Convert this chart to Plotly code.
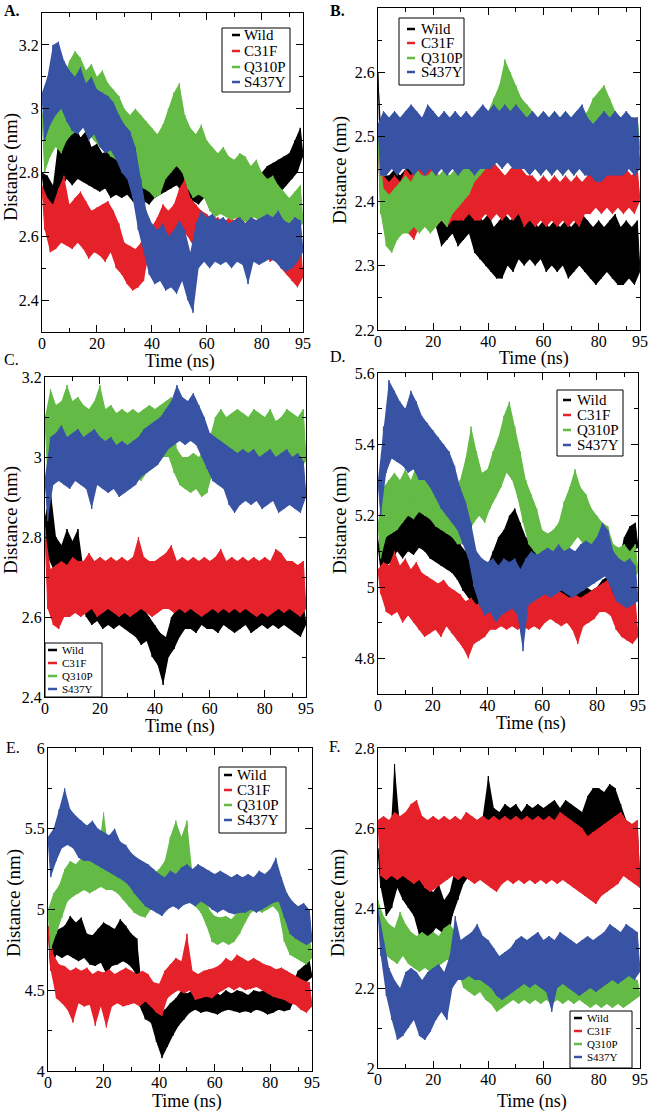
import plotly.graph_objects as go

W, H = 650, 1112

TIME_NS = list(range(96))
SERIES = ["Wild", "C31F", "Q310P", "S437Y"]
COLORS = ["#000000", "#e5222a", "#63bb45", "#3953a4"]
X_TICKS = [0, 20, 40, 60, 80, 95]
X_MINOR = [10, 30, 50, 70, 90]

# ---------------- Panel A ----------------
A_WILD = [2.80, 2.72, 2.79, 2.65, 2.76, 2.68, 2.90, 2.75, 2.94, 2.78,
          2.92, 2.76, 2.95, 2.78, 2.91, 2.77, 2.93, 2.76, 2.88, 2.75,
          2.89, 2.74, 2.86, 2.75, 2.87, 2.72, 2.85, 2.73, 2.84, 2.72,
          2.86, 2.73, 2.84, 2.71, 2.83, 2.70, 2.82, 2.71, 2.84, 2.70,
          2.83, 2.72, 2.85, 2.73, 2.84, 2.74, 2.86, 2.75, 2.88, 2.76,
          2.90, 2.74, 2.86, 2.73, 2.85, 2.71, 2.84, 2.70, 2.86, 2.72,
          2.87, 2.71, 2.85, 2.72, 2.84, 2.70, 2.83, 2.71, 2.82, 2.70,
          2.81, 2.69, 2.80, 2.70, 2.79, 2.67, 2.80, 2.70, 2.81, 2.71,
          2.80, 2.72, 2.82, 2.73, 2.83, 2.72, 2.84, 2.74, 2.85, 2.76,
          2.86, 2.78, 2.90, 2.80, 2.94, 2.85]
A_C31F = [2.76, 2.62, 2.72, 2.55, 2.70, 2.56, 2.75, 2.58, 2.79, 2.57,
          2.70, 2.56, 2.72, 2.58, 2.74, 2.56, 2.71, 2.53, 2.68, 2.55,
          2.69, 2.54, 2.70, 2.52, 2.71, 2.55, 2.68, 2.50, 2.64, 2.48,
          2.58, 2.45, 2.57, 2.43, 2.56, 2.44, 2.58, 2.46, 2.62, 2.55,
          2.63, 2.55, 2.66, 2.56, 2.70, 2.58, 2.68, 2.56, 2.70, 2.60,
          2.75, 2.62, 2.78, 2.60, 2.72, 2.57, 2.70, 2.55, 2.68, 2.56,
          2.67, 2.55, 2.65, 2.54, 2.66, 2.55, 2.64, 2.53, 2.66, 2.54,
          2.65, 2.53, 2.67, 2.55, 2.64, 2.53, 2.66, 2.54, 2.65, 2.53,
          2.67, 2.55, 2.66, 2.52, 2.64, 2.53, 2.62, 2.50, 2.60, 2.48,
          2.58, 2.46, 2.56, 2.44, 2.58, 2.47]
A_Q310P = [2.98, 2.80, 3.05, 2.85, 3.10, 2.88, 3.12, 2.86, 3.10, 2.90,
           3.15, 2.92, 3.18, 2.93, 3.16, 2.95, 3.12, 2.92, 3.14, 2.90,
           3.10, 2.88, 3.12, 2.87, 3.08, 2.85, 3.06, 2.84, 3.04, 2.82,
           3.00, 2.80, 2.98, 2.78, 3.00, 2.76, 2.98, 2.75, 2.96, 2.74,
           2.94, 2.72, 2.92, 2.73, 2.95, 2.78, 3.00, 2.80, 3.05, 2.82,
           3.08, 2.80, 2.98, 2.75, 2.94, 2.72, 2.92, 2.73, 2.95, 2.72,
           2.90, 2.68, 2.88, 2.66, 2.86, 2.67, 2.88, 2.66, 2.85, 2.65,
           2.84, 2.66, 2.86, 2.65, 2.85, 2.64, 2.82, 2.66, 2.84, 2.65,
           2.80, 2.63, 2.78, 2.62, 2.79, 2.63, 2.76, 2.60, 2.74, 2.58,
           2.72, 2.60, 2.74, 2.62, 2.76, 2.64]
A_S437Y = [3.05, 2.90, 3.10, 2.95, 3.20, 2.98, 3.21, 3.00, 3.15, 2.96,
           3.12, 2.93, 3.10, 2.92, 3.13, 2.94, 3.08, 2.90, 3.10, 2.92,
           3.06, 2.88, 3.05, 2.86, 3.04, 2.87, 3.02, 2.84, 2.98, 2.80,
           2.95, 2.78, 2.93, 2.72, 2.88, 2.62, 2.78, 2.55, 2.68, 2.48,
           2.64, 2.45, 2.62, 2.46, 2.64, 2.43, 2.60, 2.44, 2.62, 2.42,
           2.65, 2.46, 2.62, 2.40, 2.55, 2.36, 2.64, 2.50, 2.68, 2.52,
           2.66, 2.50, 2.67, 2.52, 2.65, 2.51, 2.66, 2.52, 2.64, 2.50,
           2.65, 2.52, 2.66, 2.51, 2.64, 2.45, 2.66, 2.52, 2.65, 2.51,
           2.66, 2.52, 2.67, 2.53, 2.66, 2.52, 2.68, 2.50, 2.65, 2.49,
           2.64, 2.50, 2.66, 2.52, 2.65, 2.55]

# ---------------- Panel B ----------------
B_WILD = [2.60, 2.45, 2.44, 2.38, 2.44, 2.38, 2.45, 2.39, 2.44, 2.38,
          2.45, 2.39, 2.46, 2.40, 2.48, 2.40, 2.46, 2.39, 2.45, 2.38,
          2.44, 2.36, 2.42, 2.33, 2.40, 2.34, 2.41, 2.35, 2.40, 2.33,
          2.39, 2.34, 2.40, 2.35, 2.39, 2.32, 2.38, 2.31, 2.37, 2.30,
          2.38, 2.29, 2.36, 2.28, 2.37, 2.28, 2.38, 2.30, 2.37, 2.29,
          2.38, 2.31, 2.39, 2.30, 2.37, 2.31, 2.38, 2.30, 2.36, 2.31,
          2.37, 2.29, 2.36, 2.30, 2.37, 2.29, 2.36, 2.30, 2.37, 2.28,
          2.36, 2.29, 2.37, 2.30, 2.38, 2.29, 2.37, 2.28, 2.36, 2.27,
          2.37, 2.28, 2.36, 2.29, 2.37, 2.28, 2.38, 2.27, 2.36, 2.27,
          2.37, 2.28, 2.36, 2.27, 2.37, 2.29]
B_C31F = [2.50, 2.38, 2.44, 2.36, 2.43, 2.36, 2.44, 2.35, 2.43, 2.36,
          2.45, 2.35, 2.44, 2.34, 2.46, 2.36, 2.45, 2.37, 2.47, 2.36,
          2.47, 2.36, 2.44, 2.37, 2.43, 2.36, 2.44, 2.37, 2.43, 2.37,
          2.44, 2.37, 2.45, 2.38, 2.44, 2.37, 2.46, 2.37, 2.45, 2.38,
          2.45, 2.37, 2.46, 2.38, 2.45, 2.37, 2.44, 2.38, 2.45, 2.37,
          2.46, 2.38, 2.45, 2.36, 2.44, 2.37, 2.44, 2.36, 2.43, 2.37,
          2.44, 2.36, 2.43, 2.37, 2.44, 2.36, 2.43, 2.37, 2.44, 2.36,
          2.43, 2.37, 2.44, 2.36, 2.43, 2.38, 2.44, 2.38, 2.45, 2.39,
          2.44, 2.38, 2.45, 2.39, 2.46, 2.38, 2.45, 2.39, 2.46, 2.38,
          2.45, 2.39, 2.44, 2.38, 2.45, 2.40]
B_Q310P = [2.50, 2.38, 2.42, 2.33, 2.41, 2.32, 2.42, 2.34, 2.43, 2.35,
           2.44, 2.35, 2.43, 2.36, 2.45, 2.35, 2.44, 2.36, 2.44, 2.35,
           2.45, 2.36, 2.44, 2.37, 2.45, 2.36, 2.44, 2.38, 2.45, 2.39,
           2.46, 2.40, 2.47, 2.41, 2.47, 2.43, 2.50, 2.44, 2.52, 2.45,
           2.54, 2.46, 2.56, 2.47, 2.58, 2.48, 2.62, 2.47, 2.60, 2.48,
           2.58, 2.46, 2.56, 2.45, 2.55, 2.46, 2.54, 2.45, 2.53, 2.44,
           2.54, 2.45, 2.53, 2.44, 2.54, 2.45, 2.53, 2.44, 2.54, 2.45,
           2.53, 2.44, 2.54, 2.45, 2.53, 2.45, 2.54, 2.46, 2.56, 2.47,
           2.57, 2.48, 2.58, 2.47, 2.56, 2.46, 2.54, 2.45, 2.53, 2.46,
           2.52, 2.45, 2.53, 2.46, 2.53, 2.48]
B_S437Y = [2.52, 2.44, 2.54, 2.44, 2.53, 2.45, 2.54, 2.44, 2.53, 2.45,
           2.54, 2.45, 2.55, 2.44, 2.54, 2.45, 2.53, 2.44, 2.55, 2.45,
           2.54, 2.44, 2.53, 2.45, 2.54, 2.44, 2.53, 2.45, 2.54, 2.44,
           2.53, 2.45, 2.54, 2.45, 2.53, 2.44, 2.54, 2.45, 2.55, 2.45,
           2.54, 2.45, 2.55, 2.46, 2.54, 2.45, 2.55, 2.46, 2.54, 2.45,
           2.55, 2.45, 2.54, 2.45, 2.53, 2.44, 2.54, 2.45, 2.53, 2.44,
           2.54, 2.45, 2.53, 2.44, 2.54, 2.45, 2.53, 2.44, 2.54, 2.45,
           2.53, 2.44, 2.54, 2.45, 2.55, 2.44, 2.53, 2.44, 2.52, 2.43,
           2.53, 2.43, 2.54, 2.44, 2.53, 2.44, 2.54, 2.44, 2.53, 2.44,
           2.54, 2.45, 2.53, 2.44, 2.53, 2.45]

# ---------------- Panel C ----------------
C_WILD = [2.85, 2.75, 2.92, 2.72, 2.80, 2.68, 2.78, 2.69, 2.82, 2.70,
          2.79, 2.68, 2.82, 2.64, 2.72, 2.60, 2.70, 2.58, 2.72, 2.59,
          2.65, 2.57, 2.64, 2.58, 2.63, 2.57, 2.64, 2.58, 2.63, 2.57,
          2.64, 2.56, 2.63, 2.55, 2.66, 2.53, 2.62, 2.54, 2.60, 2.50,
          2.58, 2.48, 2.56, 2.43, 2.55, 2.50, 2.60, 2.52, 2.62, 2.55,
          2.63, 2.57, 2.64, 2.57, 2.63, 2.56, 2.64, 2.58, 2.63, 2.57,
          2.64, 2.57, 2.63, 2.56, 2.64, 2.58, 2.63, 2.57, 2.64, 2.56,
          2.63, 2.57, 2.64, 2.58, 2.63, 2.56, 2.64, 2.57, 2.63, 2.58,
          2.64, 2.57, 2.63, 2.58, 2.64, 2.57, 2.65, 2.58, 2.64, 2.57,
          2.63, 2.56, 2.64, 2.55, 2.63, 2.58]
C_C31F = [2.82, 2.62, 2.72, 2.58, 2.73, 2.57, 2.74, 2.60, 2.73, 2.60,
          2.75, 2.61, 2.74, 2.60, 2.74, 2.61, 2.76, 2.62, 2.74, 2.60,
          2.75, 2.61, 2.74, 2.62, 2.75, 2.61, 2.74, 2.60, 2.75, 2.61,
          2.74, 2.60, 2.75, 2.61, 2.80, 2.62, 2.75, 2.61, 2.74, 2.60,
          2.74, 2.61, 2.75, 2.62, 2.76, 2.62, 2.78, 2.61, 2.74, 2.62,
          2.75, 2.61, 2.74, 2.62, 2.75, 2.61, 2.74, 2.60, 2.75, 2.61,
          2.74, 2.62, 2.75, 2.61, 2.77, 2.62, 2.74, 2.61, 2.75, 2.62,
          2.74, 2.61, 2.75, 2.62, 2.74, 2.61, 2.75, 2.60, 2.74, 2.61,
          2.75, 2.60, 2.74, 2.61, 2.77, 2.62, 2.76, 2.61, 2.74, 2.62,
          2.74, 2.61, 2.73, 2.60, 2.74, 2.62]
C_Q310P = [3.10, 2.95, 3.17, 2.97, 3.13, 2.98, 3.14, 2.97, 3.18, 2.98,
           3.14, 2.97, 3.15, 2.98, 3.13, 2.97, 3.12, 2.98, 3.14, 2.96,
           3.18, 2.97, 3.12, 2.96, 3.13, 2.95, 3.11, 2.96, 3.12, 2.95,
           3.11, 2.94, 3.12, 2.95, 3.11, 2.94, 3.12, 2.96, 3.13, 2.97,
           3.12, 2.98, 3.13, 3.00, 3.14, 3.00, 3.15, 2.96, 3.02, 2.93,
           3.00, 2.92, 3.00, 2.91, 3.01, 2.92, 3.00, 2.90, 3.02, 2.91,
           3.05, 2.96, 3.10, 2.98, 3.12, 2.97, 3.10, 2.98, 3.11, 2.97,
           3.12, 2.98, 3.11, 2.97, 3.10, 2.98, 3.12, 2.97, 3.11, 2.98,
           3.10, 2.97, 3.12, 2.96, 3.09, 2.97, 3.10, 2.96, 3.12, 2.97,
           3.11, 2.98, 3.10, 2.97, 3.12, 2.99]
C_S437Y = [2.95, 2.84, 3.05, 2.93, 3.06, 2.94, 3.08, 2.93, 3.05, 2.92,
           3.06, 2.94, 3.07, 2.93, 3.05, 2.92, 3.06, 2.87, 3.07, 2.93,
           3.05, 2.92, 3.04, 2.91, 3.05, 2.92, 3.03, 2.90, 3.04, 2.91,
           3.03, 2.92, 3.04, 2.93, 3.05, 2.95, 3.07, 2.96, 3.08, 2.97,
           3.09, 2.98, 3.10, 3.00, 3.12, 3.02, 3.14, 3.03, 3.18, 3.04,
           3.15, 3.03, 3.14, 3.04, 3.16, 3.03, 3.13, 3.00, 3.10, 2.97,
           3.06, 2.94, 3.05, 2.93, 3.04, 2.92, 3.03, 2.88, 3.02, 2.86,
           3.01, 2.88, 3.02, 2.89, 3.01, 2.88, 3.02, 2.89, 3.00, 2.87,
           3.01, 2.88, 3.02, 2.89, 3.00, 2.86, 3.01, 2.87, 3.02, 2.88,
           3.00, 2.87, 3.01, 2.86, 2.99, 2.90]

# ---------------- Panel D ----------------
D_WILD = [5.12, 5.05, 5.22, 5.06, 5.18, 5.07, 5.24, 5.10, 5.22, 5.08,
          5.20, 5.10, 5.24, 5.09, 5.27, 5.11, 5.22, 5.10, 5.25, 5.08,
          5.20, 5.07, 5.18, 5.06, 5.19, 5.05, 5.17, 5.04, 5.15, 5.02,
          5.12, 4.99, 5.10, 4.97, 5.08, 4.95, 5.04, 4.95, 5.05, 4.96,
          5.06, 4.98, 5.10, 5.00, 5.14, 5.03, 5.16, 5.04, 5.20, 5.05,
          5.22, 5.06, 5.18, 5.04, 5.14, 5.02, 5.12, 5.00, 5.10, 5.00,
          5.08, 4.99, 5.07, 4.98, 5.06, 4.97, 5.05, 4.96, 5.04, 4.95,
          5.03, 4.94, 5.02, 4.93, 5.01, 4.93, 5.00, 4.92, 4.99, 4.93,
          5.00, 4.94, 5.02, 4.95, 5.03, 4.96, 5.05, 4.98, 5.08, 5.02,
          5.14, 5.08, 5.17, 5.10, 5.18, 5.11]
D_C31F = [5.05, 4.98, 5.07, 4.93, 5.06, 4.92, 5.10, 4.93, 5.06, 4.90,
          5.08, 4.92, 5.05, 4.90, 5.07, 4.88, 5.04, 4.86, 5.03, 4.87,
          5.02, 4.88, 5.01, 4.86, 5.02, 4.89, 5.00, 4.87, 4.99, 4.85,
          4.98, 4.83, 4.96, 4.80, 4.97, 4.84, 4.95, 4.85, 4.96, 4.86,
          4.97, 4.88, 5.05, 4.88, 4.98, 4.89, 4.97, 4.88, 4.98, 4.89,
          4.99, 4.88, 5.02, 4.89, 4.97, 4.88, 4.98, 4.89, 4.97, 4.88,
          4.98, 4.90, 4.99, 4.91, 4.98, 4.90, 4.99, 4.89, 4.98, 4.90,
          4.97, 4.88, 4.98, 4.84, 4.97, 4.89, 4.98, 4.90, 4.99, 4.91,
          5.00, 4.93, 5.01, 4.93, 5.02, 4.92, 4.98, 4.88, 4.97, 4.86,
          4.96, 4.85, 4.97, 4.84, 4.96, 4.86]
D_Q310P = [5.18, 5.08, 5.28, 5.14, 5.30, 5.15, 5.32, 5.16, 5.30, 5.18,
           5.33, 5.20, 5.30, 5.19, 5.34, 5.21, 5.32, 5.20, 5.31, 5.19,
           5.30, 5.17, 5.29, 5.16, 5.30, 5.15, 5.28, 5.14, 5.26, 5.12,
           5.30, 5.12, 5.36, 5.15, 5.45, 5.18, 5.38, 5.20, 5.32, 5.18,
           5.33, 5.22, 5.38, 5.25, 5.42, 5.28, 5.48, 5.32, 5.52, 5.30,
           5.45, 5.25, 5.38, 5.18, 5.30, 5.12, 5.26, 5.10, 5.22, 5.08,
           5.16, 5.05, 5.15, 5.04, 5.16, 5.05, 5.18, 5.08, 5.24, 5.10,
           5.28, 5.12, 5.33, 5.14, 5.28, 5.12, 5.26, 5.10, 5.22, 5.06,
           5.20, 5.05, 5.18, 5.04, 5.17, 5.03, 5.12, 5.00, 5.11, 5.01,
           5.12, 5.00, 5.10, 5.02, 5.12, 5.04]
D_S437Y = [5.30, 5.20, 5.45, 5.32, 5.58, 5.36, 5.55, 5.35, 5.52, 5.34,
           5.50, 5.32, 5.55, 5.33, 5.52, 5.30, 5.48, 5.30, 5.46, 5.28,
           5.44, 5.25, 5.42, 5.22, 5.40, 5.20, 5.38, 5.18, 5.34, 5.16,
           5.28, 5.12, 5.24, 5.08, 5.18, 5.00, 5.10, 4.95, 5.08, 4.92,
           5.07, 4.93, 5.08, 4.90, 5.06, 4.92, 5.08, 4.93, 5.07, 4.94,
           5.08, 4.92, 5.05, 4.82, 5.08, 4.95, 5.10, 4.96, 5.09, 4.97,
           5.10, 4.98, 5.11, 4.97, 5.10, 4.98, 5.12, 4.99, 5.10, 4.98,
           5.11, 4.97, 5.10, 4.98, 5.12, 4.99, 5.13, 5.00, 5.12, 5.01,
           5.14, 5.02, 5.18, 5.03, 5.16, 5.00, 5.10, 4.96, 5.08, 4.95,
           5.07, 4.94, 5.08, 4.95, 5.06, 4.96]

# ---------------- Panel E ----------------
E_WILD = [4.90, 4.62, 4.85, 4.72, 4.88, 4.70, 4.90, 4.72, 4.96, 4.70,
          4.92, 4.68, 4.95, 4.70, 4.85, 4.66, 4.84, 4.65, 4.88, 4.67,
          4.92, 4.60, 4.90, 4.65, 4.88, 4.66, 4.94, 4.68, 4.90, 4.66,
          4.85, 4.62, 4.82, 4.40, 4.48, 4.32, 4.46, 4.30, 4.42, 4.18,
          4.35, 4.08, 4.38, 4.15, 4.42, 4.22, 4.45, 4.28, 4.50, 4.32,
          4.48, 4.36, 4.50, 4.38, 4.48, 4.36, 4.50, 4.37, 4.48, 4.36,
          4.49, 4.35, 4.47, 4.37, 4.50, 4.38, 4.48, 4.37, 4.50, 4.36,
          4.49, 4.37, 4.47, 4.36, 4.50, 4.38, 4.49, 4.37, 4.50, 4.35,
          4.48, 4.36, 4.47, 4.38, 4.49, 4.37, 4.48, 4.38, 4.55, 4.45,
          4.62, 4.52, 4.65, 4.55, 4.68, 4.58]
E_C31F = [4.90, 4.62, 4.72, 4.45, 4.66, 4.42, 4.65, 4.38, 4.62, 4.30,
          4.64, 4.42, 4.62, 4.40, 4.64, 4.41, 4.60, 4.28, 4.62, 4.40,
          4.61, 4.27, 4.63, 4.40, 4.60, 4.42, 4.62, 4.40, 4.64, 4.41,
          4.62, 4.42, 4.60, 4.40, 4.62, 4.43, 4.60, 4.40, 4.55, 4.36,
          4.54, 4.34, 4.62, 4.45, 4.66, 4.48, 4.70, 4.50, 4.68, 4.48,
          4.85, 4.50, 4.62, 4.44, 4.60, 4.45, 4.62, 4.46, 4.63, 4.45,
          4.64, 4.48, 4.66, 4.50, 4.70, 4.52, 4.68, 4.50, 4.72, 4.52,
          4.70, 4.50, 4.68, 4.51, 4.70, 4.52, 4.68, 4.50, 4.66, 4.48,
          4.65, 4.46, 4.63, 4.45, 4.64, 4.44, 4.62, 4.42, 4.60, 4.41,
          4.58, 4.38, 4.56, 4.36, 4.55, 4.40]
E_Q310P = [5.00, 4.75, 5.10, 4.85, 5.15, 4.95, 5.25, 5.05, 5.30, 5.08,
           5.28, 5.10, 5.32, 5.12, 5.30, 5.10, 5.34, 5.12, 5.36, 5.14,
           5.60, 5.12, 5.35, 5.12, 5.32, 5.10, 5.28, 5.06, 5.24, 5.02,
           5.22, 4.98, 5.20, 4.96, 5.18, 4.95, 5.20, 5.00, 5.22, 5.04,
           5.25, 5.06, 5.30, 5.12, 5.45, 5.18, 5.55, 5.20, 5.45, 5.18,
           5.55, 5.20, 5.22, 5.02, 5.18, 4.98, 5.15, 4.90, 5.00, 4.80,
           4.96, 4.78, 4.95, 4.80, 4.96, 4.78, 4.94, 4.80, 4.98, 4.85,
           5.05, 4.92, 5.10, 4.98, 5.12, 5.00, 5.15, 4.98, 5.18, 5.00,
           5.20, 5.02, 5.25, 4.98, 5.05, 4.80, 4.90, 4.72, 4.88, 4.70,
           4.86, 4.68, 4.85, 4.66, 4.84, 4.70]
E_S437Y = [5.45, 5.20, 5.50, 5.30, 5.62, 5.38, 5.75, 5.40, 5.62, 5.38,
           5.58, 5.32, 5.55, 5.30, 5.52, 5.30, 5.55, 5.28, 5.50, 5.26,
           5.48, 5.24, 5.46, 5.22, 5.50, 5.20, 5.42, 5.18, 5.40, 5.15,
           5.35, 5.10, 5.32, 5.06, 5.30, 5.02, 5.28, 5.00, 5.25, 4.98,
           5.22, 4.96, 5.20, 5.00, 5.24, 5.02, 5.22, 5.00, 5.26, 5.03,
           5.28, 5.04, 5.25, 5.02, 5.28, 5.05, 5.26, 5.03, 5.24, 5.00,
           5.22, 4.98, 5.24, 5.00, 5.22, 4.98, 5.20, 4.97, 5.22, 4.98,
           5.20, 4.98, 5.22, 5.00, 5.20, 4.98, 5.24, 5.00, 5.22, 5.02,
           5.25, 5.04, 5.32, 5.05, 5.20, 4.95, 5.10, 4.85, 5.05, 4.82,
           5.02, 4.80, 5.04, 4.78, 5.00, 4.80]

# ---------------- Panel F ----------------
F_WILD = [2.55, 2.45, 2.50, 2.38, 2.52, 2.40, 2.76, 2.45, 2.60, 2.42,
          2.52, 2.40, 2.54, 2.38, 2.50, 2.33, 2.46, 2.32, 2.45, 2.33,
          2.44, 2.35, 2.46, 2.34, 2.42, 2.30, 2.44, 2.38, 2.50, 2.42,
          2.55, 2.46, 2.58, 2.48, 2.60, 2.48, 2.62, 2.49, 2.63, 2.50,
          2.73, 2.50, 2.65, 2.51, 2.64, 2.50, 2.66, 2.52, 2.65, 2.50,
          2.66, 2.51, 2.64, 2.50, 2.66, 2.52, 2.65, 2.51, 2.66, 2.52,
          2.65, 2.51, 2.66, 2.52, 2.67, 2.53, 2.65, 2.52, 2.67, 2.53,
          2.66, 2.52, 2.65, 2.53, 2.64, 2.55, 2.68, 2.56, 2.70, 2.56,
          2.70, 2.57, 2.69, 2.56, 2.71, 2.57, 2.70, 2.56, 2.66, 2.52,
          2.62, 2.50, 2.61, 2.49, 2.60, 2.46]
F_C31F = [2.62, 2.48, 2.63, 2.47, 2.62, 2.48, 2.64, 2.47, 2.63, 2.48,
          2.64, 2.47, 2.66, 2.46, 2.67, 2.47, 2.63, 2.45, 2.62, 2.44,
          2.63, 2.45, 2.62, 2.46, 2.63, 2.47, 2.62, 2.48, 2.63, 2.47,
          2.62, 2.48, 2.64, 2.47, 2.63, 2.46, 2.62, 2.47, 2.63, 2.46,
          2.62, 2.45, 2.63, 2.44, 2.62, 2.46, 2.63, 2.47, 2.62, 2.46,
          2.63, 2.47, 2.62, 2.46, 2.63, 2.47, 2.62, 2.46, 2.63, 2.47,
          2.62, 2.46, 2.63, 2.47, 2.62, 2.46, 2.64, 2.47, 2.63, 2.46,
          2.62, 2.45, 2.61, 2.44, 2.60, 2.43, 2.58, 2.42, 2.59, 2.41,
          2.60, 2.43, 2.61, 2.44, 2.62, 2.45, 2.63, 2.46, 2.64, 2.48,
          2.62, 2.47, 2.61, 2.46, 2.62, 2.45]
F_Q310P = [2.42, 2.32, 2.38, 2.28, 2.36, 2.27, 2.35, 2.26, 2.39, 2.28,
           2.36, 2.26, 2.34, 2.25, 2.33, 2.24, 2.34, 2.25, 2.33, 2.24,
           2.34, 2.25, 2.33, 2.26, 2.35, 2.27, 2.36, 2.27, 2.34, 2.24,
           2.31, 2.20, 2.30, 2.19, 2.29, 2.18, 2.30, 2.19, 2.28, 2.17,
           2.27, 2.16, 2.25, 2.14, 2.26, 2.15, 2.25, 2.16, 2.26, 2.17,
           2.25, 2.16, 2.26, 2.17, 2.25, 2.16, 2.26, 2.17, 2.25, 2.16,
           2.26, 2.17, 2.25, 2.16, 2.26, 2.17, 2.25, 2.16, 2.24, 2.17,
           2.25, 2.16, 2.24, 2.17, 2.25, 2.16, 2.24, 2.15, 2.24, 2.16,
           2.23, 2.15, 2.24, 2.16, 2.23, 2.15, 2.24, 2.16, 2.23, 2.15,
           2.24, 2.16, 2.23, 2.17, 2.22, 2.18]
F_S437Y = [2.40, 2.28, 2.32, 2.18, 2.25, 2.12, 2.22, 2.07, 2.20, 2.08,
           2.24, 2.10, 2.25, 2.12, 2.24, 2.08, 2.22, 2.07, 2.24, 2.09,
           2.25, 2.12, 2.26, 2.14, 2.24, 2.12, 2.28, 2.20, 2.38, 2.22,
           2.32, 2.22, 2.33, 2.23, 2.34, 2.22, 2.36, 2.22, 2.33, 2.21,
           2.32, 2.20, 2.30, 2.18, 2.28, 2.17, 2.29, 2.18, 2.30, 2.19,
           2.32, 2.20, 2.33, 2.21, 2.32, 2.20, 2.33, 2.21, 2.34, 2.20,
           2.32, 2.19, 2.33, 2.14, 2.32, 2.20, 2.34, 2.21, 2.33, 2.20,
           2.32, 2.19, 2.31, 2.18, 2.32, 2.19, 2.33, 2.20, 2.32, 2.19,
           2.33, 2.20, 2.34, 2.21, 2.36, 2.22, 2.35, 2.21, 2.34, 2.22,
           2.36, 2.23, 2.35, 2.22, 2.34, 2.24]

# y-axis ranges and tick labels per panel
A_YRANGE, A_YTICKS, A_YMINOR = [2.3, 3.3], [2.4, 2.6, 2.8, 3.0, 3.2], [2.3, 2.5, 2.7, 2.9, 3.1, 3.3]
B_YRANGE, B_YTICKS, B_YMINOR = [2.2, 2.7], [2.2, 2.3, 2.4, 2.5, 2.6, 2.7], [2.25, 2.35, 2.45, 2.55, 2.65]
C_YRANGE, C_YTICKS, C_YMINOR = [2.4, 3.2], [2.4, 2.6, 2.8, 3.0, 3.2], [2.5, 2.7, 2.9, 3.1]
D_YRANGE, D_YTICKS, D_YMINOR = [4.7, 5.6], [4.8, 5.0, 5.2, 5.4, 5.6], [4.7, 4.9, 5.1, 5.3, 5.5]
E_YRANGE, E_YTICKS, E_YMINOR = [4.0, 6.0], [4.0, 4.5, 5.0, 5.5, 6.0], [4.25, 4.75, 5.25, 5.75]
F_YRANGE, F_YTICKS, F_YMINOR = [2.0, 2.8], [2.0, 2.2, 2.4, 2.6, 2.8], [2.1, 2.3, 2.5, 2.7]

PANELS = [
    dict(tag="A.", bold=True, data=[A_WILD, A_C31F, A_Q310P, A_S437Y], yr=A_YRANGE, yt=A_YTICKS, ym=A_YMINOR,
         box=(42, 303, 13, 332), lab=(2, 0), ytitle=(11, 167), xtitle=(180, 361),
         leg=(222, 290, 28, 92), rows=[35, 51, 67, 82], samp=(232, 240), txt=243, lfs=15),
    dict(tag="B.", bold=True, data=[B_WILD, B_C31F, B_Q310P, B_S437Y], yr=B_YRANGE, yt=B_YTICKS, ym=B_YMINOR,
         box=(378, 640, 8, 330), lab=(328, 0), ytitle=(340, 170), xtitle=(534, 358),
         leg=(399, 464, 18, 85), rows=[29, 43, 58, 72], samp=(407, 415), txt=420, lfs=15),
    dict(tag="C.", bold=False, data=[C_WILD, C_C31F, C_Q310P, C_S437Y], yr=C_YRANGE, yt=C_YTICKS, ym=C_YMINOR,
         box=(45, 306, 377, 697), lab=(2, 349), ytitle=(11, 520), xtitle=(180, 726),
         leg=(45, 102, 643, 697), rows=[650, 663, 676, 689], samp=(48, 57), txt=61, lfs=11),
    dict(tag="D.", bold=False, data=[D_WILD, D_C31F, D_Q310P, D_S437Y], yr=D_YRANGE, yt=D_YTICKS, ym=D_YMINOR,
         box=(378, 638, 373, 694), lab=(328, 346), ytitle=(340, 520), xtitle=(531, 723),
         leg=(557, 623, 390, 456), rows=[400, 415, 430, 445], samp=(563, 571), txt=576, lfs=15),
    dict(tag="E.", bold=False, data=[E_WILD, E_C31F, E_Q310P, E_S437Y], yr=E_YRANGE, yt=E_YTICKS, ym=E_YMINOR,
         box=(48, 312, 748, 1071), lab=(4, 737), ytitle=(14, 903), xtitle=(187, 1101),
         leg=(219, 286, 767, 833), rows=[775, 790, 805, 820], samp=(224, 232), txt=236, lfs=15),
    dict(tag="F.", bold=False, data=[F_WILD, F_C31F, F_Q310P, F_S437Y], yr=F_YRANGE, yt=F_YTICKS, ym=F_YMINOR,
         box=(378, 640, 748, 1068), lab=(327, 736), ytitle=(338, 903), xtitle=(532, 1101),
         leg=(570, 632, 1011, 1068), rows=[1018, 1031, 1044, 1057], samp=(574, 582), txt=586, lfs=11),
]

FONT = "Liberation Serif"


def px(x):
    return x / W


def py(y):
    return 1 - y / H


def fmt(v):
    return f"{v:g}"


fig = go.Figure()
layout = dict(width=W, height=H, margin=dict(l=0, r=0, t=0, b=0, pad=0, autoexpand=False),
              paper_bgcolor="white", plot_bgcolor="white", showlegend=False,
              font=dict(family=FONT, size=16, color="black"))
annotations = []
shapes = []

for i, p in enumerate(PANELS):
    n = "" if i == 0 else str(i + 1)
    xa, ya = "x" + n, "y" + n
    for k in range(4):
        vals = p["data"][k]
        # dense band: peaks (even samples) forward, troughs (odd samples) back
        bx = TIME_NS[0::2] + TIME_NS[1::2][::-1]
        by = vals[0::2] + vals[1::2][::-1]
        fig.add_trace(go.Scatter(x=bx, y=by, mode="lines", fill="toself", fillcolor=COLORS[k],
                                 line=dict(width=0, color=COLORS[k]), xaxis=xa, yaxis=ya,
                                 hoverinfo="skip", showlegend=False))
        fig.add_trace(go.Scatter(x=TIME_NS, y=vals, mode="lines", name=SERIES[k],
                                 line=dict(color=COLORS[k], width=1.0), xaxis=xa, yaxis=ya,
                                 hoverinfo="skip"))
    x0, x1, y0, y1 = p["box"]
    common = dict(showgrid=False, zeroline=False, showline=True, linecolor="black", linewidth=1,
                  mirror="ticks", ticks="inside", ticklen=7, tickwidth=1, tickcolor="black",
                  automargin=False, tickfont=dict(family=FONT, size=16, color="black"))
    layout["xaxis" + n] = dict(domain=[px(x0), px(x1)], anchor=ya, range=[0, 95],
                               tickmode="array", tickvals=X_TICKS, ticktext=[fmt(v) for v in X_TICKS],
                               ticklabelstandoff=-3,
                               minor=dict(tickmode="array", tickvals=X_MINOR, ticks="inside", ticklen=4,
                                          tickcolor="black", tickwidth=1),
                               **common)
    layout["yaxis" + n] = dict(domain=[py(y1), py(y0)], anchor=xa, range=p["yr"],
                               tickmode="array", tickvals=p["yt"], ticktext=[fmt(v) for v in p["yt"]],
                               ticklabelstandoff=-1,
                               minor=dict(tickmode="array", tickvals=p["ym"], ticks="inside", ticklen=4,
                                          tickcolor="black", tickwidth=1),
                               **common)
    annotations.append(dict(x=px(p["lab"][0]), y=py(p["lab"][1]), xref="paper", yref="paper",
                            text=("<b>%s</b>" % p["tag"]) if p["bold"] else p["tag"],
                            showarrow=False, xanchor="left", yanchor="top",
                            font=dict(family=FONT, size=16, color="black")))
    annotations.append(dict(x=px(p["ytitle"][0]), y=py(p["ytitle"][1]), xref="paper", yref="paper",
                            text="Distance (nm)", textangle=-90, showarrow=False,
                            xanchor="center", yanchor="middle", font=dict(family=FONT, size=19)))
    annotations.append(dict(x=px(p["xtitle"][0]), y=py(p["xtitle"][1]), xref="paper", yref="paper",
                            text="Time (ns)", showarrow=False,
                            xanchor="center", yanchor="middle", font=dict(family=FONT, size=18)))
    lx0, lx1, ly0, ly1 = p["leg"]
    shapes.append(dict(type="rect", xref="paper", yref="paper", x0=px(lx0), x1=px(lx1),
                       y0=py(ly1), y1=py(ly0), line=dict(color="black", width=1),
                       fillcolor="white", layer="above"))
    for k in range(4):
        ry = p["rows"][k]
        shapes.append(dict(type="line", xref="paper", yref="paper", x0=px(p["samp"][0]),
                           x1=px(p["samp"][1]), y0=py(ry), y1=py(ry),
                           line=dict(color=COLORS[k], width=2.5), layer="above"))
        annotations.append(dict(x=px(p["txt"]), y=py(ry), xref="paper", yref="paper",
                                text=SERIES[k], showarrow=False, xanchor="left", yanchor="middle",
                                borderpad=0,
                                font=dict(family=FONT, size=p["lfs"], color="black")))

layout["annotations"] = annotations
layout["shapes"] = shapes
fig.update_layout(**layout)
fig.write_html("out.html", config={"displayModeBar": False},
               post_script="document.body.style.margin='0px';document.body.style.overflow='hidden';")
